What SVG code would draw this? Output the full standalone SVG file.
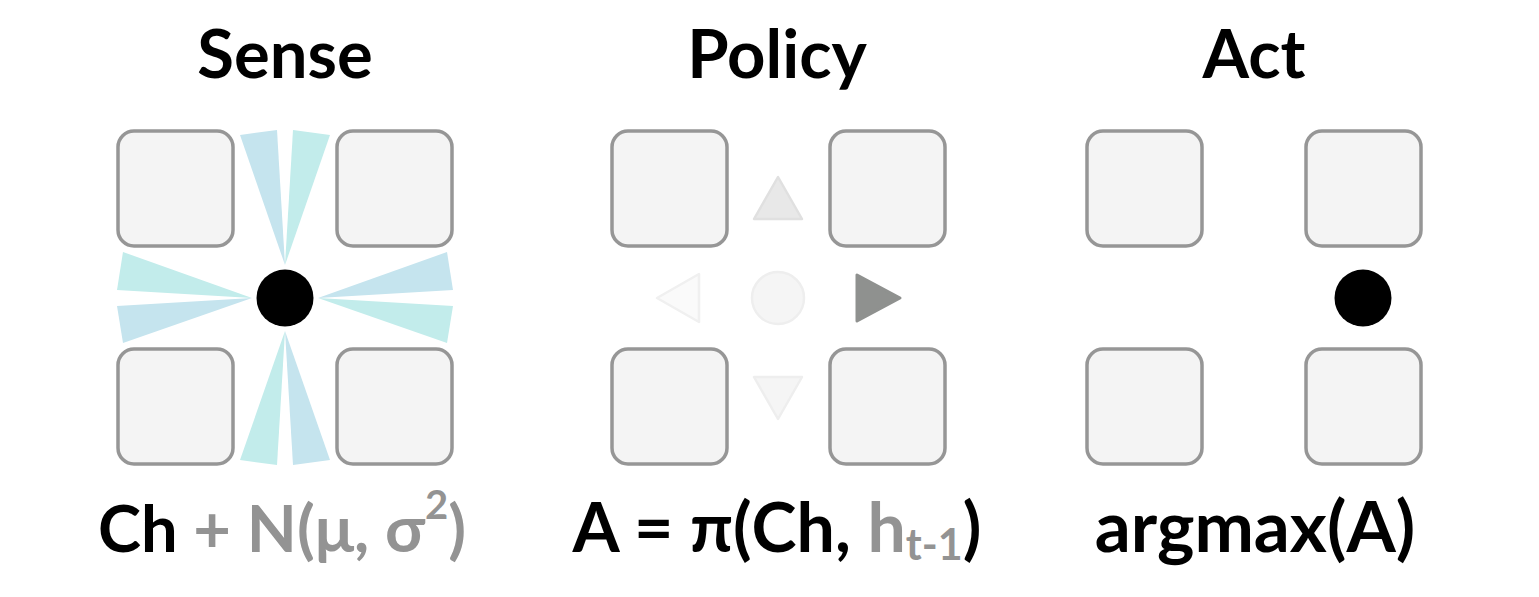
<svg xmlns="http://www.w3.org/2000/svg" width="1539" height="597" viewBox="0 0 1539 597">
<style>
.t{font-family:Lato,"Liberation Sans",sans-serif;font-weight:bold;fill:#000}
.title{font-size:67px}
.g{fill:#939393}
.cell{fill:#f4f4f4;stroke:#969696;stroke-width:3.5}
.wb{fill:#c5e4ee}
.wc{fill:#c2eceb}
.dot{fill:#000}
</style>
<rect width="1539" height="597" fill="#fff"/>
<defs>
<rect id="sq" x="0" y="0" width="115" height="115" rx="16" class="cell"/>
</defs>

<text class="t title" x="285" y="78" text-anchor="middle">Sense</text>
<text class="t title" x="777" y="78" text-anchor="middle">Policy</text>
<text class="t title" x="1254" y="78" text-anchor="middle">Act</text>

<!-- Sense panel -->
<g id="sense-cell-tl"><use href="#sq" x="118" y="131"/></g>
<g id="sense-cell-tr"><use href="#sq" x="337" y="131"/></g>
<g id="sense-cell-bl"><use href="#sq" x="118" y="349"/></g>
<g id="sense-cell-br"><use href="#sq" x="337" y="349"/></g>
<g id="sense-rays">
<polygon class="wb" points="285,265 240,135 277,130"/>
<polygon class="wc" points="285,265 293,130 330,135"/>
<polygon class="wc" points="252,298 123,252 117,290"/>
<polygon class="wb" points="252,298 117,306 123,343"/>
<polygon class="wb" points="318,298 447,252 453,290"/>
<polygon class="wc" points="318,298 453,306 447,343"/>
<polygon class="wc" points="285,331 240,460 277,465"/>
<polygon class="wb" points="285,331 293,465 330,460"/>
</g>
<g id="sense-agent"><circle class="dot" cx="285" cy="298" r="28.5"/></g>

<!-- Policy panel -->
<g id="policy-cell-tl"><use href="#sq" x="612" y="131"/></g>
<g id="policy-cell-tr"><use href="#sq" x="830" y="131"/></g>
<g id="policy-cell-bl"><use href="#sq" x="612" y="349"/></g>
<g id="policy-cell-br"><use href="#sq" x="830" y="349"/></g>
<g id="policy-up"><polygon points="778,177 754,219 802,219" fill="#e8e8e8" stroke="#e0e0e0" stroke-width="2.5" stroke-linejoin="round"/></g>
<g id="policy-stay"><circle cx="778" cy="298" r="26" fill="#f5f5f5" stroke="#eeeeee" stroke-width="2.5"/></g>
<g id="policy-left"><polygon points="657,298 699,274 699,322" fill="#fafafa" stroke="#f0f0f0" stroke-width="2.5" stroke-linejoin="round"/></g>
<g id="policy-right"><polygon points="857,275 857,321 900,298" fill="#8f918f" stroke="#8f918f" stroke-width="3" stroke-linejoin="round"/></g>
<g id="policy-down"><polygon points="754,377 802,377 778,419" fill="#f5f5f5" stroke="#eeeeee" stroke-width="2.5" stroke-linejoin="round"/></g>

<!-- Act panel -->
<g id="act-cell-tl"><use href="#sq" x="1087" y="131"/></g>
<g id="act-cell-tr"><use href="#sq" x="1306" y="131"/></g>
<g id="act-cell-bl"><use href="#sq" x="1087" y="349"/></g>
<g id="act-cell-br"><use href="#sq" x="1306" y="349"/></g>
<g id="act-agent"><circle class="dot" cx="1363" cy="298" r="28.5"/></g>

<!-- formulas -->
<text class="t" font-size="65" x="282" y="552" text-anchor="middle">Ch<tspan class="g"> + N(μ, σ</tspan><tspan class="g" font-size="40" dy="-33">2</tspan><tspan class="g" dy="33">)</tspan></text>
<text class="t" font-size="68" x="777" y="552" text-anchor="middle">A = π(Ch, <tspan class="g">h</tspan><tspan class="g" font-size="43" dy="8">t-1</tspan><tspan dy="-8">)</tspan></text>
<text class="t" font-size="71" x="1255" y="552" text-anchor="middle">argmax(A)</text>
</svg>
